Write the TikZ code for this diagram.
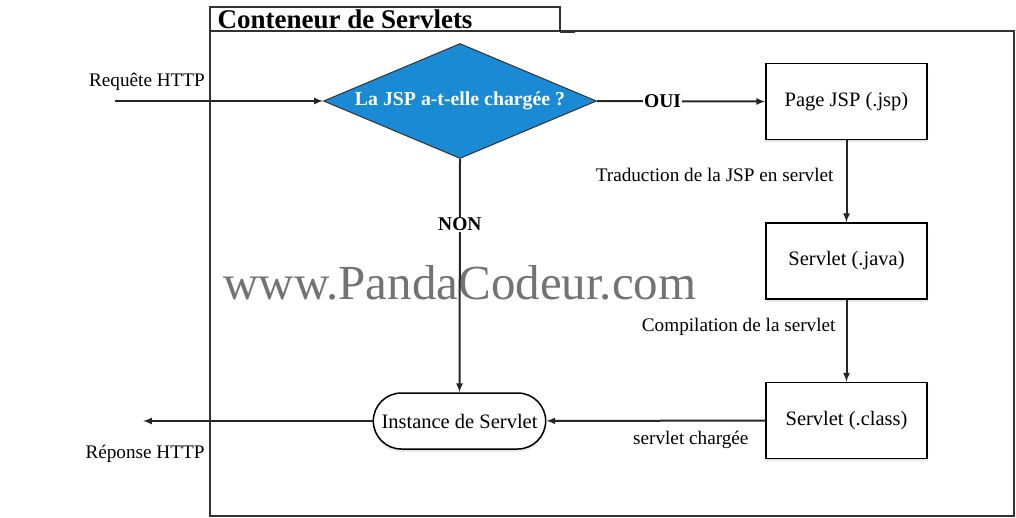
\documentclass[tikz,border=0pt]{standalone}
\usepackage{fontspec}
\setmainfont{Liberation Serif}
\usetikzlibrary{shapes,shapes.geometric,shadows.blur,calc}
\definecolor{diablue}{HTML}{1A8AD4}
\tikzset{
	stepbox/.style={draw, line width=1.5pt, fill=white, minimum width=161pt, minimum height=76pt, font=\fontsize{20.5}{24}\selectfont,
		blur shadow={shadow blur steps=8, shadow xshift=0pt, shadow yshift=-2pt, shadow opacity=15}},
	flow/.style={->, >=latex, line width=2pt, draw=black!85},
	lbl/.style={font=\fontsize{19.2}{22}\selectfont}
}
\begin{document}
\begin{tikzpicture}[x=1pt, y=-1pt]
	\useasboundingbox (0,0) rectangle (1016,517);
	% conteneur
	\draw [line width=1.8pt, draw=black!80] (210,31) rectangle (1014,516);
	\draw [line width=1.8pt, draw=black!80] (210,7) rectangle (560,31);
	\draw [line width=3pt, draw=black!80] (560,31) -- (575,31);
	\node [anchor=west, font=\bfseries\fontsize{27}{32}\selectfont] (titre) at (214,19) {Conteneur de Servlets};
	% filigrane
	\node [text=black!55, font=\fontsize{49}{56}\selectfont] (wm) at (460,283) {www.PandaCodeur.com};
	% noeuds
	\node [diamond, draw=black!80, line width=1pt, fill=diablue, aspect=2.37, minimum width=273pt, minimum height=115pt, inner sep=0pt,
		text=white, font=\bfseries\fontsize{19.8}{22}\selectfont] (test) at (460,101) {La JSP a-t-elle chargée ?};
	\node [stepbox] (jsp) at (846.5,101.5) {Page JSP (.jsp)};
	\node [stepbox] (java) at (846.5,261) {Servlet (.java)};
	\node [stepbox] (class) at (846.5,420.5) {Servlet (.class)};
	\node [draw, line width=1.5pt, fill=white, rounded rectangle, minimum width=179pt, minimum height=56pt, font=\fontsize{20.5}{24}\selectfont,
		blur shadow={shadow blur steps=8, shadow xshift=0pt, shadow yshift=-2pt, shadow opacity=15}] (inst) at (459.5,421) {Instance de Servlet};
	\coordinate (entree) at (115,101);
	\coordinate (sortie) at (143,421);
	% connecteurs
	\draw [flow] (entree) -- (test.west);
	\draw [flow] (test.east) -- (jsp.west) node [pos=0.39, fill=white, inner sep=1pt, font=\bfseries\fontsize{19.5}{22}\selectfont] (oui) {OUI};
	\draw [flow] (jsp) -- (java);
	\draw [flow] (java) -- (class);
	\draw [flow] (class) -- (inst);
	\draw [flow] (test.south) -- (inst.north) node [pos=0.28, fill=white, inner sep=1pt, font=\bfseries\fontsize{19.5}{22}\selectfont] (non) {NON};
	\draw [flow] (inst) -- (sortie);
	% etiquettes
	\node [lbl] (req) at (147,82) {Requête HTTP};
	\node [lbl] (rep) at (145,454) {Réponse HTTP};
	\node [lbl, anchor=east] (trad) at (837,175) {Traduction de la JSP en servlet};
	\node [lbl, anchor=east] (comp) at (839,327) {Compilation de la servlet};
	\node [lbl, anchor=east] (charg) at (752,440) {servlet chargée};
\end{tikzpicture}
\end{document}
